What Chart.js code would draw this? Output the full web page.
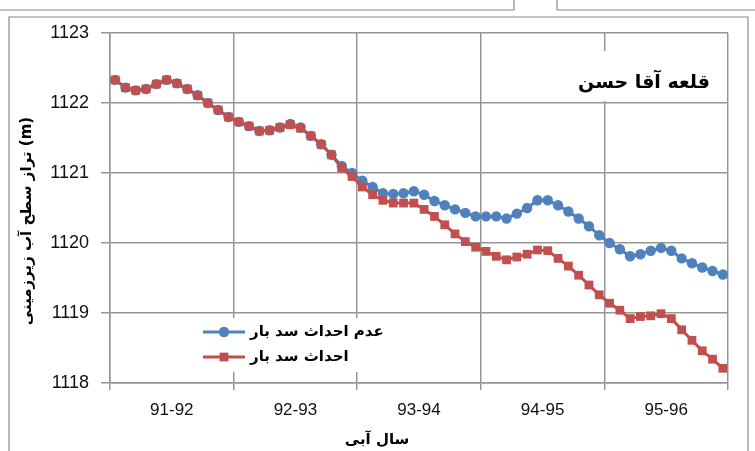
<!DOCTYPE html>
<html><head><meta charset="utf-8">
<script src="https://cdn.jsdelivr.net/npm/chart.js@4.4.1/dist/chart.umd.min.js"></script>
<style>html,body{margin:0;padding:0;background:#fff}canvas{display:block}</style>
</head><body>
<canvas id="c" width="755" height="451"></canvas>
<script>
// Groundwater level at Ghaleh Agha Hasan, monthly, water years 91-92 .. 95-96
const yearLabels = ['91-92', '92-93', '93-94', '94-95', '95-96'];
const monthsPerYear = 12;
const yMin = 1118, yMax = 1123, yStep = 1;

// scenario: without the Bar dam
const withoutDam = [
  1122.33, 1122.22, 1122.18, 1122.20, 1122.27, 1122.33, 1122.28, 1122.20, 1122.11, 1122.00, 1121.90, 1121.80,
  1121.73, 1121.67, 1121.60, 1121.61, 1121.65, 1121.70, 1121.65, 1121.53, 1121.41, 1121.26, 1121.10, 1121.00,
  1120.89, 1120.80, 1120.71, 1120.70, 1120.71, 1120.74, 1120.69, 1120.60, 1120.54, 1120.48, 1120.43, 1120.38,
  1120.38, 1120.38, 1120.35, 1120.42, 1120.50, 1120.61, 1120.61, 1120.54, 1120.45, 1120.35, 1120.24, 1120.11,
  1120.00, 1119.91, 1119.81, 1119.84, 1119.89, 1119.93, 1119.89, 1119.78, 1119.71, 1119.65, 1119.60, 1119.55
];
// scenario: with the Bar dam built
const withDam = [
  1122.33, 1122.22, 1122.18, 1122.20, 1122.27, 1122.33, 1122.28, 1122.20, 1122.11, 1122.00, 1121.90, 1121.80,
  1121.73, 1121.67, 1121.60, 1121.61, 1121.65, 1121.69, 1121.64, 1121.53, 1121.41, 1121.26, 1121.07, 1120.95,
  1120.80, 1120.69, 1120.61, 1120.57, 1120.57, 1120.57, 1120.48, 1120.38, 1120.26, 1120.13, 1120.02, 1119.94,
  1119.88, 1119.81, 1119.76, 1119.80, 1119.84, 1119.90, 1119.89, 1119.78, 1119.67, 1119.54, 1119.40, 1119.26,
  1119.14, 1119.04, 1118.92, 1118.95, 1118.96, 1118.99, 1118.92, 1118.76, 1118.61, 1118.46, 1118.34, 1118.21
];

const seriesNames = ['عدم احداث سد بار', 'احداث سد بار'];
const chartTitle = 'قلعه آقا حسن';
const yAxisTitle = 'تراز سطح آب زیرزمینی (m)';
const xAxisTitle = 'سال آبی';

const BLUE = '#4f81bd', RED = '#c0504d', GRID = '#969696';
const persianFont = '"DejaVu Sans", sans-serif';
const latinFont = '"Liberation Sans", Arial, sans-serif';

const toPoints = arr => arr.map((v, i) => ({ x: i + 0.5, y: v }));

// page frame and chart decorations (boxes, titles, legend)
const decor = {
  id: 'decor',
  beforeDraw(chart) {
    const c = chart.ctx;
    c.save();
    c.fillStyle = '#fff';
    c.fillRect(0, 0, chart.width, chart.height);
    c.strokeStyle = '#8a8a8a';
    c.lineWidth = 1.2;
    c.beginPath();
    // neighbouring frames above
    c.moveTo(0, 10); c.lineTo(514, 10); c.lineTo(514, 0);
    c.moveTo(557, 0); c.lineTo(557, 10); c.lineTo(755, 10);
    // this chart's frame
    c.moveTo(9, 451); c.lineTo(9, 17); c.lineTo(748, 17); c.lineTo(748, 451);
    c.stroke();
    c.restore();
  },
  beforeDatasetsDraw(chart) {
    const c = chart.ctx, a = chart.chartArea;
    c.save();
    // title box
    c.fillStyle = '#fff';
    c.fillRect(a.left + 460, a.top + 18, 150, 50);
    c.fillStyle = '#000';
    c.font = 'bold 19px ' + persianFont;
    c.textAlign = 'center';
    c.textBaseline = 'middle';
    c.fillText(chartTitle, a.left + 534, a.top + 50);

    // legend box
    c.fillStyle = '#fff';
    c.fillRect(a.left + 85, a.bottom - 65, 190, 54);
    const ds = chart.data.datasets;
    const rows = [{ d: ds.find(d => d.label === seriesNames[0]), y: a.bottom - 51 },
                  { d: ds.find(d => d.label === seriesNames[1]), y: a.bottom - 26 }];
    rows.forEach(r => {
      const x0 = a.left + 93, x1 = a.left + 135;
      c.strokeStyle = r.d.borderColor;
      c.lineWidth = r.d.borderWidth;
      c.beginPath(); c.moveTo(x0, r.y); c.lineTo(x1, r.y); c.stroke();
      c.fillStyle = r.d.pointBackgroundColor;
      if (r.d.pointStyle === 'circle') {
        c.beginPath(); c.arc((x0 + x1) / 2, r.y, r.d.pointRadius, 0, Math.PI * 2); c.fill();
      } else {
        const s = r.d.pointRadius * Math.SQRT1_2;
        c.fillRect((x0 + x1) / 2 - s, r.y - s, 2 * s, 2 * s);
      }
      c.fillStyle = '#000';
      c.font = 'bold 15px ' + persianFont;
      c.textAlign = 'left';
      c.textBaseline = 'middle';
      c.fillText(r.d.label, a.left + 140, r.y);
    });

    // axis titles
    c.font = 'bold 15px ' + persianFont;
    c.textAlign = 'center';
    c.textBaseline = 'middle';
    c.fillText(xAxisTitle, a.left + 267, a.bottom + 57);
    c.translate(27, (a.top + a.bottom) / 2 + 13);
    c.rotate(-Math.PI / 2);
    c.fillText(yAxisTitle, 0, 0);
    c.restore();
  }
};

new Chart(document.getElementById('c'), {
  type: 'line',
  data: {
    datasets: [
      {
        label: seriesNames[1],
        data: toPoints(withDam),
        borderColor: RED, backgroundColor: RED,
        pointBackgroundColor: RED, pointBorderColor: RED,
        borderWidth: 3, pointStyle: 'rect', pointRadius: 6.2, pointBorderWidth: 0,
        tension: 0, order: 0
      },
      {
        label: seriesNames[0],
        data: toPoints(withoutDam),
        borderColor: BLUE, backgroundColor: BLUE,
        pointBackgroundColor: BLUE, pointBorderColor: BLUE,
        borderWidth: 3, pointStyle: 'circle', pointRadius: 5.2, pointBorderWidth: 0,
        tension: 0, order: 1
      }
    ]
  },
  options: {
    responsive: false,
    animation: false,
    devicePixelRatio: 1,
    layout: { padding: { top: 33, right: 27, left: 0, bottom: 0 } },
    plugins: { legend: { display: false }, tooltip: { enabled: false } },
    scales: {
      x: {
        type: 'linear',
        min: 0, max: yearLabels.length * monthsPerYear,
        afterFit: s => { s.height = 68; },
        afterBuildTicks: s => {
          const t = [];
          for (let v = 0; v <= yearLabels.length * monthsPerYear; v += monthsPerYear / 2) t.push({ value: v });
          s.ticks = t;
        },
        ticks: {
          autoSkip: false, maxRotation: 0, padding: 10,
          color: '#111',
          font: { family: latinFont, size: 17 },
          callback: v => (v % monthsPerYear === monthsPerYear / 2) ? yearLabels[(v - monthsPerYear / 2) / monthsPerYear] : ''
        },
        grid: {
          lineWidth: 1.5, tickLength: 7,
          color: ctx => (ctx.tick && ctx.tick.value % monthsPerYear === 0) ? GRID : 'rgba(0,0,0,0)'
        },
        border: { color: GRID, width: 1.5 }
      },
      y: {
        min: yMin, max: yMax,
        afterFit: s => { s.width = 110; },
        ticks: {
          stepSize: yStep, padding: 12, color: '#111',
          font: { family: latinFont, size: 18 },
          callback: v => String(v)
        },
        grid: { color: GRID, lineWidth: 1.5, tickLength: 9 },
        border: { color: GRID, width: 1.5 }
      }
    }
  },
  plugins: [decor]
});
</script>
</body></html>
